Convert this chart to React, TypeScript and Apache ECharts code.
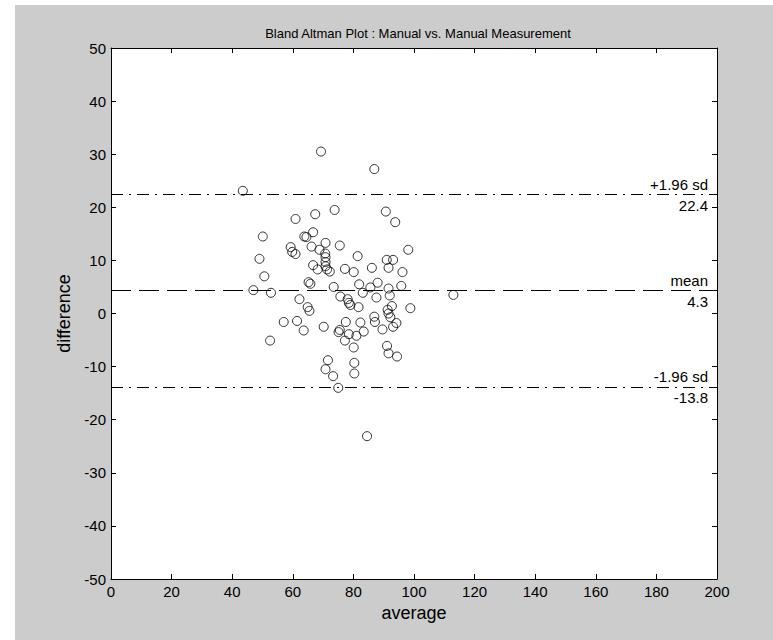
import { useEffect, useRef } from "react";
import * as echarts from "echarts";

const averages = [
  69.3, 86.9, 43.5, 90.7, 73.8, 67.4, 60.9, 93.8, 50.1, 66.7,
  63.8, 64.5, 70.8, 59.3, 66.2, 68.8, 75.5, 98.1, 59.8, 60.9,
  70.7, 70.8, 81.4, 91.0, 93.1, 49.0, 66.7, 70.8, 70.8, 68.2,
  71.3, 72.2, 77.2, 80.1, 86.1, 91.6, 96.2, 50.6, 65.2, 65.8,
  73.5, 81.9, 88.0, 85.6, 91.6, 95.8, 83.1, 47.0, 52.8, 62.2,
  75.7, 78.1, 87.6, 92.0, 113.0, 98.8, 78.5, 79.0, 64.9, 65.5,
  81.7, 92.7, 91.3, 57.0, 61.4, 63.6, 52.5, 70.2, 77.5, 75.5,
  75.1, 82.3, 86.9, 87.1, 91.6, 92.2, 94.2, 93.1, 89.6, 83.4,
  78.5, 81.0, 77.2, 80.1, 91.1, 91.6, 94.4, 71.6, 70.8, 80.3,
  73.3, 80.3, 75.0, 84.5,
];

const differences = [
  30.5, 27.2, 23.1, 19.2, 19.5, 18.7, 17.8, 17.2, 14.5, 15.3,
  14.5, 14.4, 13.3, 12.5, 12.6, 12.0, 12.8, 12.0, 11.6, 11.2,
  11.3, 10.6, 10.8, 10.1, 10.1, 10.3, 9.1, 9.7, 8.9, 8.3,
  8.3, 7.9, 8.4, 7.8, 8.6, 8.6, 7.8, 7.0, 5.9, 5.6,
  5.0, 5.5, 5.8, 4.9, 4.7, 5.2, 3.9, 4.4, 3.9, 2.7,
  3.2, 2.7, 3.0, 3.4, 3.5, 1.0, 2.0, 1.6, 1.2, 0.5,
  1.2, 1.4, 0.7, -1.6, -1.4, -3.2, -5.1, -2.5, -1.6, -3.1,
  -3.5, -1.7, -0.6, -1.6, 0.0, -0.7, -1.8, -2.5, -3.0, -3.4,
  -3.9, -4.2, -5.1, -6.4, -6.1, -7.5, -8.1, -8.8, -10.5, -9.3,
  -11.8, -11.3, -14.0, -23.1,
];

const meanDiff = 4.3;
const upperLoA = 22.4;
const lowerLoA = -13.8;
const lineNames = ["+1.96 sd", "mean", "-1.96 sd"];

const FONT = "'Liberation Sans', Arial, sans-serif";
const DASH_DOT = [12, 6, 2, 6];
const LONG_DASH = [20, 8];

export default function App() {
  const ref = useRef<HTMLDivElement>(null);

  useEffect(() => {
    if (!ref.current) return;
    const chart = echarts.init(ref.current, null, { renderer: "svg" });
    const pts = averages.map((a, i) => [a, differences[i]]);

    const axisCommon = {
      type: "value" as const,
      axisLine: { show: true, onZero: false, lineStyle: { color: "#000", width: 1 } },
      axisTick: { show: true, inside: true, length: 5, lineStyle: { color: "#000", width: 1 } },
      splitLine: { show: false },
    };
    const tickLabel = { color: "#000", fontSize: 15, fontFamily: FONT, margin: 5 };
    const nameStyle = { color: "#000", fontSize: 18, fontFamily: FONT };
    const lblStyle = {
      color: "#000",
      fontSize: 15,
      fontFamily: FONT,
      distance: 3,
      padding: [0, 6, 0, 0],
    };

    const pair = (value: number, name: string, dash: number[]) => [
      {
        yAxis: value,
        lineStyle: { type: dash, color: "#000", width: 1 },
        label: { ...lblStyle, position: "insideEndTop", formatter: name },
      },
      {
        yAxis: value,
        lineStyle: { type: dash, color: "#000", width: 1 },
        label: { ...lblStyle, position: "insideEndBottom", formatter: value.toFixed(1) },
      },
    ];

    chart.setOption({
      animation: false,
      backgroundColor: "#cccccc",
      title: {
        text: "Bland Altman Plot : Manual vs. Manual Measurement",
        left: 398,
        top: 17,
        textAlign: "center",
        textStyle: { color: "#000", fontSize: 13, fontWeight: "normal", fontFamily: FONT },
      },
      grid: {
        left: 96,
        top: 43,
        right: 56,
        bottom: 61,
        show: true,
        backgroundColor: "#ffffff",
        borderWidth: 0,
      },
      xAxis: [
        {
          ...axisCommon,
          position: "bottom",
          min: 0,
          max: 200,
          interval: 20,
          name: "average",
          nameLocation: "middle",
          nameGap: 24,
          nameTextStyle: nameStyle,
          axisLabel: tickLabel,
        },
        {
          ...axisCommon,
          position: "top",
          min: 0,
          max: 200,
          interval: 20,
          axisLabel: { show: false },
        },
      ],
      yAxis: [
        {
          ...axisCommon,
          position: "left",
          min: -50,
          max: 50,
          interval: 10,
          name: "difference",
          nameLocation: "middle",
          nameGap: 37,
          nameTextStyle: nameStyle,
          axisLabel: tickLabel,
        },
        {
          ...axisCommon,
          position: "right",
          min: -50,
          max: 50,
          interval: 10,
          axisLabel: { show: false },
        },
      ],
      series: [
        {
          type: "scatter",
          xAxisIndex: 0,
          yAxisIndex: 0,
          data: pts,
          symbol: "circle",
          symbolSize: 9,
          itemStyle: { color: "rgba(0,0,0,0)", borderColor: "#000", borderWidth: 1 },
          markLine: {
            silent: true,
            symbol: "none",
            data: [
              ...pair(upperLoA, lineNames[0], DASH_DOT),
              ...pair(meanDiff, lineNames[1], LONG_DASH),
              ...pair(lowerLoA, lineNames[2], DASH_DOT),
            ],
          },
        },
      ],
    });

    return () => chart.dispose();
  }, []);

  return (
    <div style={{ position: "absolute", left: 0, top: 0, width: 773, height: 640, background: "#fff" }}>
      <div ref={ref} style={{ position: "absolute", left: 15, top: 5, width: 758, height: 635 }} />
    </div>
  );
}
